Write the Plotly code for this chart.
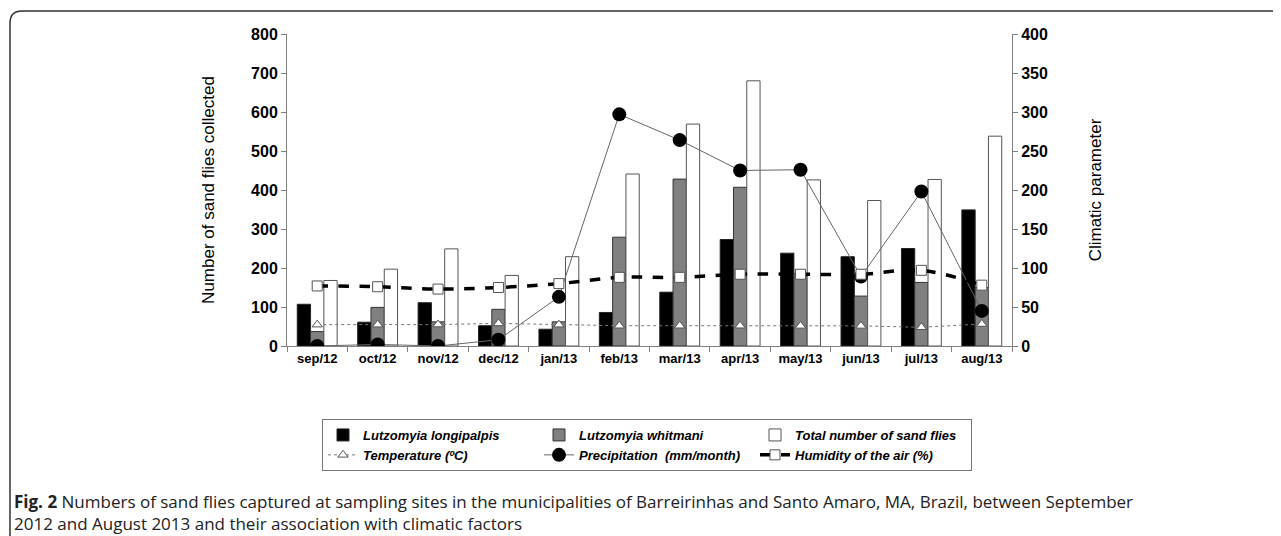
import plotly.graph_objects as go

months = ["sep/12", "oct/12", "nov/12", "dec/12", "jan/13", "feb/13",
          "mar/13", "apr/13", "may/13", "jun/13", "jul/13", "aug/13"]
longipalpis = [107, 61, 111, 52, 43, 86, 138, 273, 238, 229, 250, 349]
whitmani = [37, 99, 62, 94, 62, 279, 428, 407, 185, 128, 163, 150]
total = [168, 197, 249, 181, 229, 441, 569, 680, 426, 373, 427, 538]
temperature = [27.4, 27.4, 27.5, 29, 27.4, 26, 26, 26, 25.8, 25.8, 24, 28.2]
precipitation = [0, 2, 0, 8, 63, 297, 264, 225, 226, 89, 198, 45]
humidity = [77, 76, 73, 75, 80, 88, 88, 92, 92, 92, 97, 78]

OFF = 8                     # default page margin of the html body
W, H = 1281 - OFF, 536 - OFF
L, R, T, B = 287, 1012, 34, 346  # plot area in page px


def px(x):
    return (x - L) / (R - L)


def py(y):
    return (B - y) / (B - T)


fig = go.Figure()
fig.add_trace(go.Bar(x=months, y=longipalpis, name="<i>Lutzomyia longipalpis</i>",
                     marker=dict(color="#000000", line=dict(color="#222222", width=1))))
fig.add_trace(go.Bar(x=months, y=whitmani, name="<i>Lutzomyia whitmani</i>",
                     marker=dict(color="#808080", line=dict(color="#333333", width=1))))
fig.add_trace(go.Bar(x=months, y=total, name="<i>Total number of sand flies</i>",
                     marker=dict(color="#ffffff", line=dict(color="#555555", width=1))))
fig.add_trace(go.Scatter(x=months, y=temperature, yaxis="y2", name="<i>Temperature (\u00baC)</i>",
                         mode="lines+markers",
                         line=dict(color="#777777", width=1, dash="dot"),
                         marker=dict(symbol="triangle-up", size=9, color="#ffffff",
                                     line=dict(color="#555555", width=1))))
fig.add_trace(go.Scatter(x=months, y=precipitation, yaxis="y2",
                         name="<i>Precipitation  (mm/month)</i>",
                         mode="lines+markers",
                         line=dict(color="#666666", width=1),
                         marker=dict(symbol="circle", size=14, color="#000000")))
fig.add_trace(go.Scatter(x=months, y=humidity, yaxis="y2", name="<i>Humidity of the air (%)</i>",
                         mode="lines+markers",
                         line=dict(color="#000000", width=3.5, dash="dash", shape="spline"),
                         marker=dict(symbol="square", size=10, color="#ffffff",
                                     line=dict(color="#555555", width=1))))

tickfont = dict(family="Arial", size=16, color="#000000", weight="bold")

fig.update_layout(
    width=W, height=H,
    margin=dict(l=L - OFF, r=W - (R - OFF), t=T - OFF, b=H - (B - OFF), pad=0),
    paper_bgcolor="#ffffff", plot_bgcolor="#ffffff",
    barmode="group", bargap=0.34, bargroupgap=0,
    font=dict(family="Arial", color="#000000"),
    xaxis=dict(type="category", range=[-0.5, 11.5], showline=True, linecolor="#808080",
               linewidth=1, ticks="outside", tickson="boundaries", ticklen=5,
               tickcolor="#808080", showgrid=False, zeroline=False,
               tickfont=dict(family="Arial", size=13, color="#000000", weight="bold")),
    yaxis=dict(range=[0, 800], dtick=100, showline=True, linecolor="#808080", linewidth=1,
               ticks="outside", ticklen=5, tickcolor="#808080", showgrid=False,
               zeroline=False, tickfont=tickfont,
               title=dict(text="Number of sand flies collected", standoff=32,
                          font=dict(family="Arial", size=17, color="#000000"))),
    yaxis2=dict(range=[0, 400], dtick=50, overlaying="y", side="right", showline=True,
                linecolor="#808080", linewidth=1, ticks="outside", ticklen=5,
                tickcolor="#808080", showgrid=False, zeroline=False, tickfont=tickfont,
                title=dict(text="Climatic parameter", standoff=42,
                           font=dict(family="Arial", size=17, color="#000000"))),
    legend=dict(orientation="h", x=px(322), y=py(419), xanchor="left", yanchor="top",
                bordercolor="#777777", borderwidth=1, bgcolor="#ffffff",
                entrywidth=171, entrywidthmode="pixels", traceorder="normal",
                font=dict(family="Arial", size=13, color="#000000", weight="bold"),
                tracegroupgap=0),
    showlegend=True,
)

# rounded frame of the figure panel
fig.add_shape(type="path", xref="paper", yref="paper",
              path=(f"M {px(10)},{py(545)} L {px(10)},{py(23)} "
                    f"Q {px(10)},{py(11)} {px(22)},{py(11)} L {px(1295)},{py(11)}"),
              line=dict(color="#333333", width=1.5))

caption_font = dict(family="Open Sans", size=17, color="#222222")
fig.add_annotation(xref="paper", yref="paper", x=px(12), y=py(501), xanchor="left",
                   yanchor="middle", showarrow=False, font=caption_font, align="left",
                   text=("<b>Fig. 2</b> Numbers of sand flies captured at sampling sites in the "
                         "municipalities of Barreirinhas and Santo Amaro, MA, Brazil, between September"))
fig.add_annotation(xref="paper", yref="paper", x=px(12), y=py(523.5), xanchor="left",
                   yanchor="middle", showarrow=False, font=caption_font, align="left",
                   text="2012 and August 2013 and their association with climatic factors")

fig.write_html("out.html")
